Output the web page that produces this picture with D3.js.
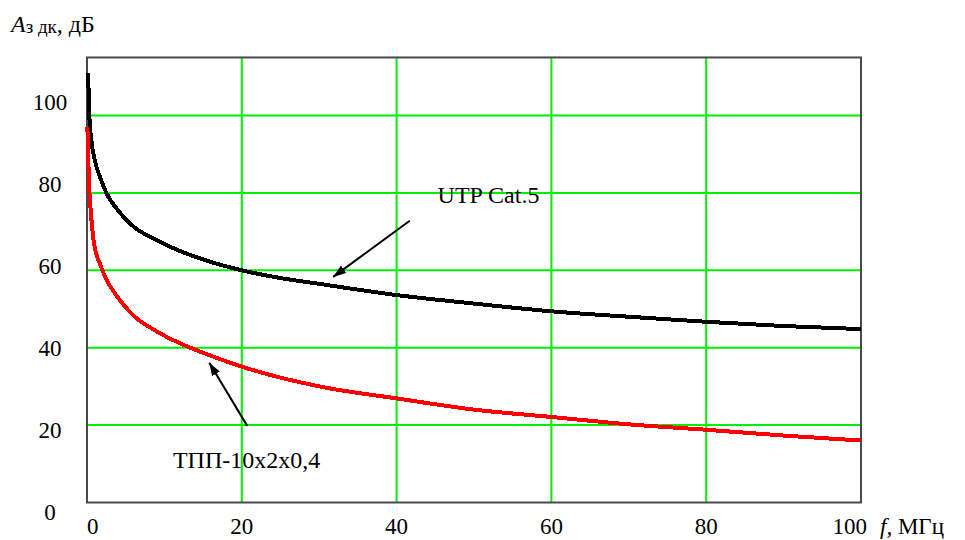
<!DOCTYPE html>
<html>
<head>
<meta charset="utf-8">
<script src="https://cdn.jsdelivr.net/npm/d3@7"></script>
<style>
  body { margin: 0; background: #fff; }
</style>
</head>
<body>
<div id="graph"></div>
<script>
// curve values (f in MHz, A in dB)
var freqUtp = [0.15, 0.3, 0.6, 1.0, 1.7, 2.5, 4, 6, 8.5, 12, 15, 20, 25, 30, 40, 50, 60, 70, 80, 90, 100];
var attUtp  = [111, 100, 93, 88.5, 84, 80, 75.5, 71.3, 68.3, 65, 62.8, 60, 58, 56.5, 53.6, 51.4, 49.4, 48, 46.7, 45.6, 44.8];

var freqTpp = [0.05, 0.25, 0.5, 0.9, 1.7, 2.6, 3.9, 6, 8.5, 10, 12.4, 14.6, 20, 30, 40, 50, 60, 70, 80, 90, 100];
var attTpp  = [97, 83, 75, 67, 61.5, 57.3, 53.2, 48.3, 44.8, 43.1, 40.8, 39, 35.1, 30, 26.9, 24, 22.1, 20.2, 18.8, 17.3, 16];

var xTicks = [0, 20, 40, 60, 80, 100];
var yTicks = [0, 20, 40, 60, 80, 100];
var xGrid = [20, 40, 60, 80];
var yGrid = [20, 40, 60, 80, 100];

// annotations: [label, text f, text A, arrow from f, A, arrow to f, A]
var notes = [
  ["UTP Cat.5", 45.3, 77.3, 41.7, 72.8, 31.8, 58.3],
  ["ТПП-10x2x0,4", 11.1, 8.8, 20.7, 19.8, 15.8, 36.1]
];

var width = 965, height = 540;
var font = "'Liberation Serif'";

var svg = d3.select("#graph")
  .append("svg")
    .attr("width", width)
    .attr("height", height);

svg.append("defs").append("marker")
    .attr("id", "head")
    .attr("viewBox", "0 0 13 9")
    .attr("refX", 13)
    .attr("refY", 4.5)
    .attr("markerWidth", 13)
    .attr("markerHeight", 9)
    .attr("markerUnits", "userSpaceOnUse")
    .attr("orient", "auto")
  .append("path")
    .attr("d", "M0,0 L13,4.5 L0,9 Z")
    .attr("fill", "#000");

var yMax = 115;
var x = d3.scaleLinear().domain([0, 100]).range([87, 861]);
var y = d3.scaleLinear().domain([0, 100]).range([502.5, 115.5]);
// tick labels sit slightly apart from the grid lines, like in the original
var yLab = d3.scaleLinear().domain([0, 100]).range([520, 110]);

// grid
svg.append("g").selectAll("line").data(yGrid).enter().append("line")
  .attr("x1", x(0)).attr("x2", x(100))
  .attr("y1", function(d) { return y(d); })
  .attr("y2", function(d) { return y(d); })
  .attr("stroke", "#00f000").attr("stroke-width", 2);
svg.append("g").selectAll("line").data(xGrid).enter().append("line")
  .attr("y1", y(0)).attr("y2", y(yMax))
  .attr("x1", function(d) { return x(d); })
  .attr("x2", function(d) { return x(d); })
  .attr("stroke", "#00f000").attr("stroke-width", 2);

// frame
svg.append("rect")
  .attr("x", x(0)).attr("y", y(yMax))
  .attr("width", x(100) - x(0)).attr("height", y(0) - y(yMax))
  .attr("fill", "none").attr("stroke", "#4a4a4a").attr("stroke-width", 2);

// curves
var line = d3.line()
  .x(function(d) { return x(d[0]); })
  .y(function(d) { return y(d[1]); })
  .curve(d3.curveMonotoneX);

svg.append("path")
  .datum(d3.zip(freqUtp, attUtp))
  .attr("fill", "none").attr("stroke", "#000").attr("stroke-width", 4)
  .attr("shape-rendering", "crispEdges")
  .attr("d", line);

svg.append("path")
  .datum(d3.zip(freqTpp, attTpp))
  .attr("fill", "none").attr("stroke", "#ff0000").attr("stroke-width", 4)
  .attr("shape-rendering", "crispEdges")
  .attr("d", line);

// tick labels
svg.append("g").selectAll("text").data(yTicks).enter().append("text")
  .attr("x", 50)
  .attr("y", function(d) { return yLab(d); })
  .attr("text-anchor", "middle")
  .style("font-family", font)
  .style("font-size", "23px")
  .text(function(d) { return d; });

svg.append("g").selectAll("text").data(xTicks).enter().append("text")
  .attr("x", function(d) { return d == 100 ? x(d) + 6 : x(d); })
  .attr("y", 534)
  .attr("text-anchor", function(d) { return d == 0 ? "start" : d == 100 ? "end" : "middle"; })
  .style("font-family", font)
  .style("font-size", "23px")
  .text(function(d) { return d; });

// axis titles
var xt = svg.append("text").attr("x", 880).attr("y", 534)
  .style("font-family", font).style("font-size", "23px");
xt.append("tspan").style("font-style", "italic").text("f,");
xt.append("tspan").text(" МГц");

var yt = svg.append("text").attr("x", 11).attr("y", 32)
  .style("font-family", font).style("font-size", "24px");
yt.append("tspan").style("font-style", "italic").text("A");
yt.append("tspan").style("font-size", "19px").attr("dy", 1).text("з дк");
yt.append("tspan").attr("dy", -1).text(", дБ");

// annotations
svg.append("g").selectAll("line").data(notes).enter().append("line")
  .attr("x1", function(d) { return x(d[3]); })
  .attr("y1", function(d) { return y(d[4]); })
  .attr("x2", function(d) { return x(d[5]); })
  .attr("y2", function(d) { return y(d[6]); })
  .attr("stroke", "#000").attr("stroke-width", 2)
  .attr("marker-end", "url(#head)");

svg.append("g").selectAll("text").data(notes).enter().append("text")
  .attr("x", function(d) { return x(d[1]); })
  .attr("y", function(d) { return y(d[2]); })
  .style("font-family", font)
  .style("font-size", "24px")
  .text(function(d) { return d[0]; });
</script>
</body>
</html>
